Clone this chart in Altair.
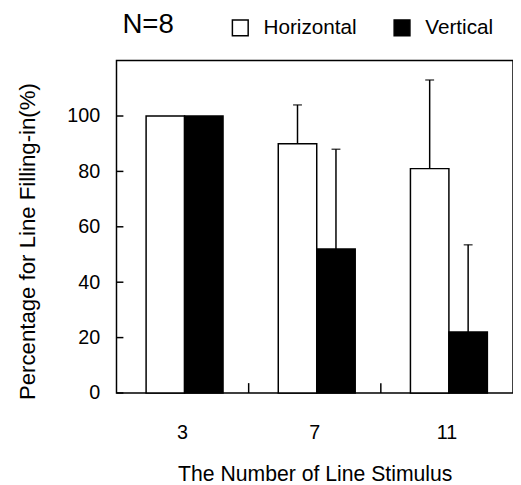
import altair as alt
import pandas as pd

groups = ["3", "7", "11"]
series = ["Horizontal", "Vertical"]
horizontal = [100, 90, 81]
vertical = [100, 52, 22]
horizontal_err = [0, 14, 32]
vertical_err = [0, 36, 31.5]
y_ticks = [0, 20, 40, 60, 80, 100]
x_boundaries = ["7", "11"]

rows = []
for i, g in enumerate(groups):
    rows.append({"n": g, "dir": series[0], "v": horizontal[i], "e": horizontal_err[i]})
    rows.append({"n": g, "dir": series[1], "v": vertical[i], "e": vertical_err[i]})
df = pd.DataFrame(rows)
df["hi"] = df["v"] + df["e"]
err_df = df[df["e"] > 0]
bound_df = pd.DataFrame({"n": x_boundaries})
ytick_df = pd.DataFrame({"t": y_ticks})

FONT = "Liberation Sans"
W, H = 402, 337

xscale = alt.Scale(domain=groups, paddingInner=0, paddingOuter=0)
xoff_scale = alt.Scale(domain=series, paddingInner=0, paddingOuter=0.718, align=0.536)
yscale = alt.Scale(domain=[0, 120], nice=False, zero=True)

x_axis = alt.Axis(
    title="The Number of Line Stimulus", labelAngle=0, ticks=False, tickSize=0,
    domain=False, grid=False, labelFontSize=20, labelPadding=30, titleFontSize=21.5,
    titlePadding=22, labelFont=FONT, titleFont=FONT, labelColor="black",
    titleColor="black", titleFontWeight="normal",
)
y_axis = alt.Axis(
    values=y_ticks, title="Percentage for Line Filling-in(%)", ticks=False, tickSize=0,
    domain=False, grid=False, labelPadding=17, labelFontSize=20, titleFontSize=22.5,
    titlePadding=28, titleY=183, labelFont=FONT, titleFont=FONT, labelColor="black",
    titleColor="black", titleFontWeight="normal",
)

x_enc = alt.X("n:N", scale=xscale, sort=groups, axis=x_axis)
y_enc = alt.Y("v:Q", scale=yscale, axis=y_axis)
xo_enc = alt.XOffset("dir:N", scale=xoff_scale, sort=series)

bars = alt.Chart(df).mark_bar(stroke="black", strokeWidth=1.5).encode(
    x=x_enc,
    xOffset=xo_enc,
    y=y_enc,
    fill=alt.Fill(
        "dir:N",
        scale=alt.Scale(domain=series, range=["white", "black"]),
        legend=alt.Legend(
            title=None, orient="none", legendX=115, legendY=-44, direction="horizontal",
            symbolType="square", symbolSize=256, symbolStrokeColor="black",
            symbolStrokeWidth=1.5, labelFontSize=21, labelFont=FONT, labelOffset=13,
            columnPadding=34, padding=0, labelColor="black",
        ),
    ),
)

err_rules = alt.Chart(err_df).mark_rule(color="black", strokeWidth=1.5).encode(
    x=x_enc, xOffset=xo_enc, y=alt.Y("v:Q", scale=yscale, axis=y_axis), y2="hi:Q"
)
err_caps = alt.Chart(err_df).mark_tick(color="black", thickness=1.5, size=9).encode(
    x=x_enc, xOffset=xo_enc, y=alt.Y("hi:Q", scale=yscale, axis=y_axis)
)

x_ticks = alt.Chart(bound_df).mark_rule(color="black", strokeWidth=1.5).encode(
    x=alt.X("n:N", scale=xscale, sort=groups, axis=x_axis, bandPosition=0),
    y=alt.value(H),
    y2=alt.value(H - 10),
)
y_tick_marks = alt.Chart(ytick_df).mark_rule(color="black", strokeWidth=1.5).encode(
    y=alt.Y("t:Q", scale=yscale, axis=y_axis),
    x=alt.value(0),
    x2=alt.value(7),
)

chart = alt.layer(bars, err_rules, err_caps, x_ticks, y_tick_marks).properties(
    width=W,
    height=H,
    title=alt.TitleParams(
        "N=8", anchor="start", frame="group", dx=6, fontSize=28, font=FONT,
        fontWeight="normal", offset=-22, color="black",
    ),
    padding={"left": 8, "top": 0, "right": 0, "bottom": 0},
    background="white",
).configure_view(stroke="black", strokeWidth=1.5)

chart.save("out.html", embed_options={"renderer": "svg", "actions": False})
